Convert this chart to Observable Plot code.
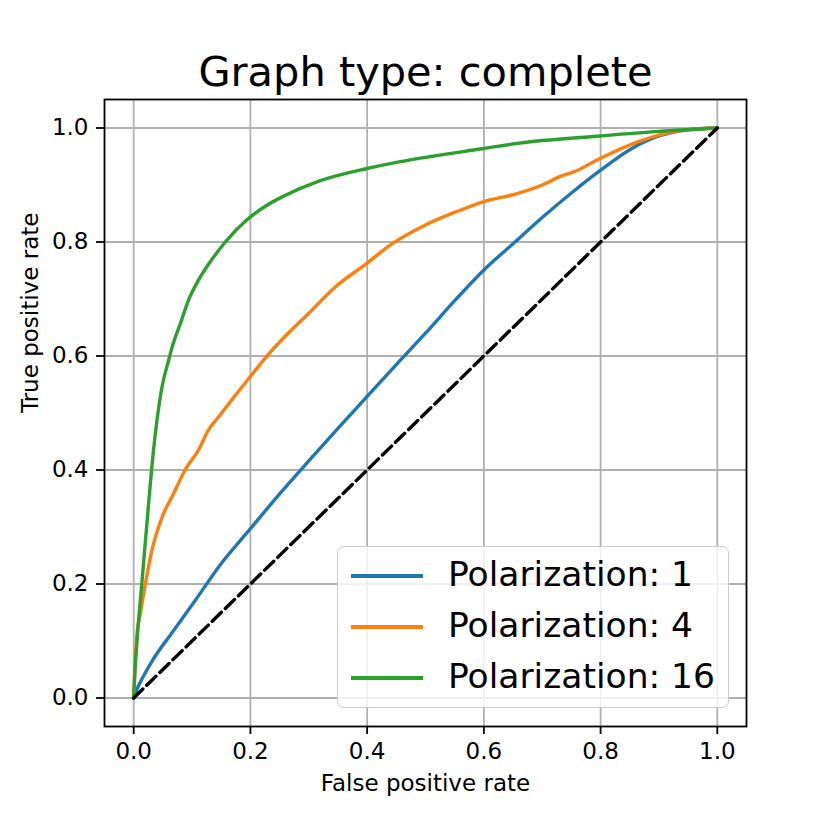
<!DOCTYPE html>
<html>
<head>
<meta charset="utf-8">
<script src="https://cdn.jsdelivr.net/npm/d3@7"></script>
<script src="https://cdn.jsdelivr.net/npm/@observablehq/plot@0.6"></script>
<style>
  html, body { margin: 0; padding: 0; background: white; }
  #wrap { position: relative; width: 830px; height: 830px; font-family: "DejaVu Sans", sans-serif; }
  #legend { position: absolute; left: 337px; top: 546px; width: 390px; height: 160px;
    border: 1.8px solid #cccccc; border-radius: 7px; background: rgba(255,255,255,0.8); }
  .row { position: absolute; left: 0; height: 0; }
  .sw { position: absolute; left: 13px; width: 72px; height: 3.4px; top: -1.7px; }
  .lab { position: absolute; left: 110px; top: -22px; font-size: 34.5px; line-height: 40px; white-space: nowrap; color: black; }
</style>
</head>
<body>
<div id="wrap"></div>
<script>
const titleText = "Graph type: complete";
const xLabel = "False positive rate";
const yLabel = "True positive rate";
const xTicks = [0, 0.2, 0.4, 0.6, 0.8, 1.0];
const yTicks = [0, 0.2, 0.4, 0.6, 0.8, 1.0];
const seriesNames = ["Polarization: 1", "Polarization: 4", "Polarization: 16"];
const seriesColors = ["#1f77b4", "#ff7f0e", "#2ca02c"];

const fpr1 = [0, 0.005, 0.015, 0.031, 0.066, 0.106, 0.15, 0.2, 0.25, 0.3, 0.35, 0.4, 0.45, 0.5, 0.55, 0.6, 0.65, 0.7, 0.75, 0.8, 0.85, 0.9, 0.95, 1];
const tpr1 = [0, 0.014, 0.035, 0.064, 0.115, 0.172, 0.236, 0.297, 0.358, 0.416, 0.473, 0.529, 0.585, 0.64, 0.697, 0.751, 0.797, 0.843, 0.886, 0.926, 0.962, 0.986, 0.997, 1];

const fpr4 = [0, 0.002, 0.0057, 0.0114, 0.02, 0.031, 0.0486, 0.068, 0.088, 0.111, 0.128, 0.146, 0.168, 0.2, 0.23, 0.26, 0.3, 0.343, 0.4, 0.44, 0.5, 0.55, 0.6, 0.657, 0.7, 0.731, 0.754, 0.8, 0.857, 0.914, 0.96, 1];
const tpr4 = [0, 0.05, 0.113, 0.148, 0.20, 0.258, 0.317, 0.358, 0.40, 0.435, 0.47, 0.494, 0.523, 0.564, 0.602, 0.635, 0.675, 0.719, 0.763, 0.795, 0.83, 0.852, 0.871, 0.885, 0.90, 0.915, 0.923, 0.947, 0.973, 0.991, 0.998, 1];

const fpr16 = [0, 0.002, 0.0057, 0.0143, 0.026, 0.034, 0.040, 0.0486, 0.060, 0.066, 0.080, 0.094, 0.111, 0.131, 0.157, 0.194, 0.229, 0.26, 0.315, 0.4, 0.457, 0.509, 0.6, 0.657, 0.8, 0.9, 1];
const tpr16 = [0, 0.045, 0.10, 0.205, 0.346, 0.435, 0.488, 0.546, 0.593, 0.616, 0.657, 0.698, 0.733, 0.765, 0.80, 0.839, 0.865, 0.882, 0.906, 0.929, 0.941, 0.95, 0.964, 0.973, 0.986, 0.994, 1];

const chanceX = [0, 1];
const chanceY = [0, 1];

const rows = [
  ...fpr1.map((x, i) => ({x, y: tpr1[i], s: seriesNames[0]})),
  ...fpr4.map((x, i) => ({x, y: tpr4[i], s: seriesNames[1]})),
  ...fpr16.map((x, i) => ({x, y: tpr16[i], s: seriesNames[2]}))
];
const chance = chanceX.map((x, i) => ({x, y: chanceY[i]}));

const fmt = d3.format(".1f");
const plot = Plot.plot({
  width: 830, height: 830,
  marginLeft: 104, marginRight: 84, marginTop: 99, marginBottom: 104,
  x: {domain: [-0.05, 1.05]},
  y: {domain: [-0.05, 1.05]},
  color: {domain: seriesNames, range: seriesColors},
  style: {fontFamily: "DejaVu Sans", background: "white", color: "black", overflow: "visible"},
  marks: [
    Plot.gridX({ticks: xTicks, stroke: "#b0b0b0", strokeOpacity: 1, strokeWidth: 1.8}),
    Plot.gridY({ticks: yTicks, stroke: "#b0b0b0", strokeOpacity: 1, strokeWidth: 1.8}),
    Plot.line(rows, {x: "x", y: "y", z: "s", stroke: "s", strokeWidth: 3.4, curve: "monotone-x"}),
    Plot.line(chance, {x: "x", y: "y", stroke: "black", strokeWidth: 3.4, strokeDasharray: "12.8,5.5"}),
    Plot.frame({stroke: "black", strokeWidth: 1.8}),
    Plot.axisX({ticks: xTicks, tickFormat: fmt, tickSize: 8, tickPadding: 8, fontSize: 23, strokeWidth: 1.8, label: null}),
    Plot.axisY({ticks: yTicks, tickFormat: fmt, tickSize: 8, tickPadding: 8, fontSize: 23, strokeWidth: 1.8, label: null}),
    Plot.text([titleText], {text: d => d, frameAnchor: "top", lineAnchor: "middle", dy: -27, fontSize: 41.5, fill: "black"}),
    Plot.text([xLabel], {text: d => d, frameAnchor: "bottom", lineAnchor: "middle", dy: 57, fontSize: 23, fill: "black"}),
    Plot.text([yLabel], {text: d => d, frameAnchor: "left", lineAnchor: "middle", dx: -74, rotate: -90, fontSize: 23, fill: "black"})
  ]
});
const wrap = document.getElementById("wrap");
wrap.appendChild(plot);

const legend = document.createElement("div");
legend.id = "legend";
const rowTops = [29, 80, 131];
seriesNames.forEach((name, i) => {
  const r = document.createElement("div");
  r.className = "row";
  r.style.top = rowTops[i] + "px";
  const sw = document.createElement("div");
  sw.className = "sw";
  sw.style.background = seriesColors[i];
  const lab = document.createElement("div");
  lab.className = "lab";
  lab.textContent = name;
  r.appendChild(sw); r.appendChild(lab);
  legend.appendChild(r);
});
wrap.appendChild(legend);
</script>
</body>
</html>
